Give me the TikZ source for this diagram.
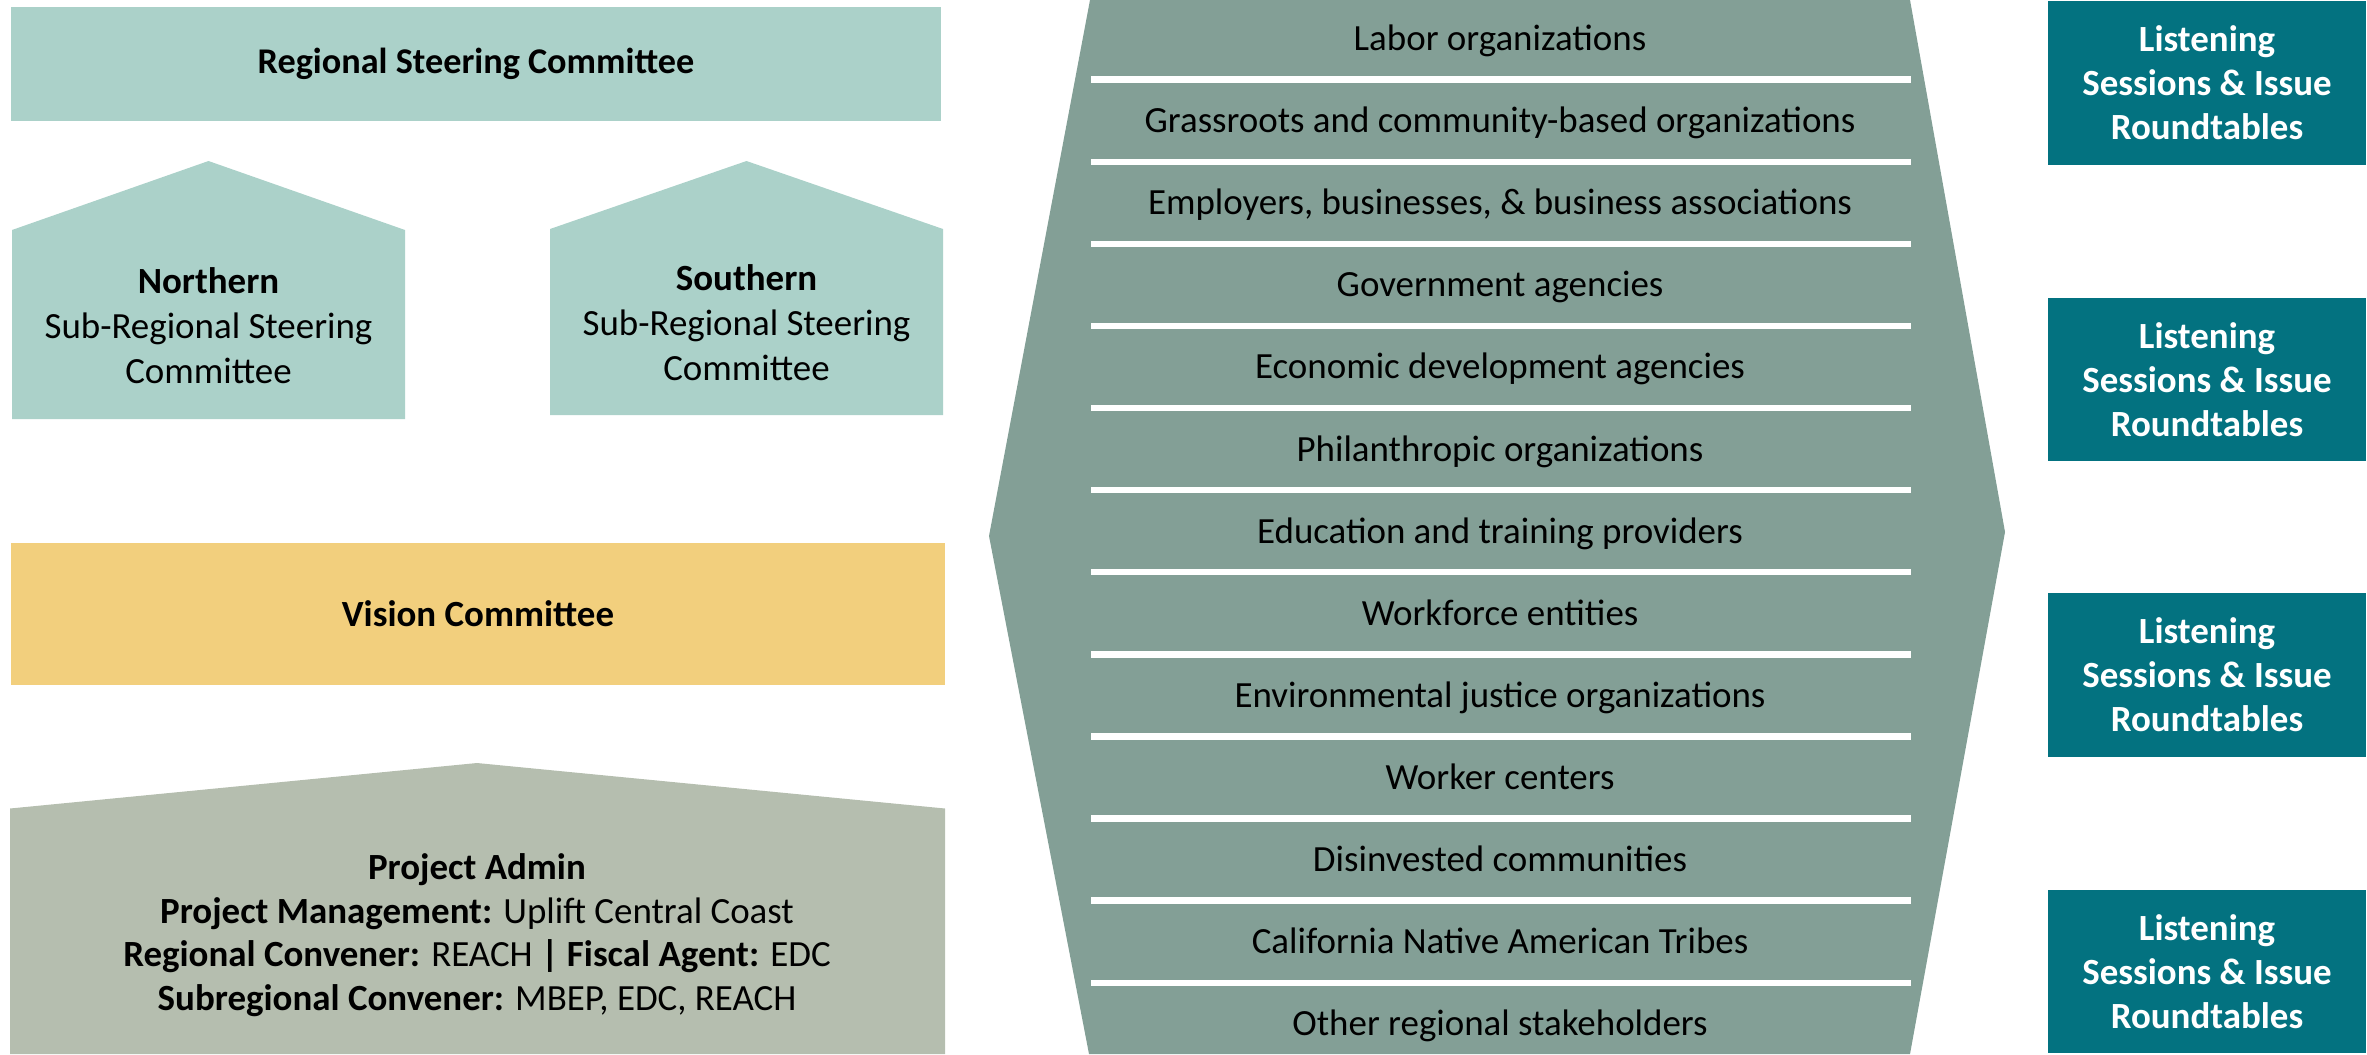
\documentclass[tikz,border=0pt]{standalone}
\usepackage{fontspec}
\setmainfont{Carlito}
\definecolor{rsc}{HTML}{ABD1C9}
\definecolor{vis}{HTML}{F2CF7D}
\definecolor{adm}{HTML}{B5BEAF}
\definecolor{hex}{HTML}{839F96}
\definecolor{lst}{HTML}{037280}
\begin{document}
\begin{tikzpicture}[x=0.01cm,y=-0.01cm,
  lbl/.style={font=\fontsize{10.5}{12.8}\selectfont, align=center, inner sep=0pt, text=black},
  item/.style={font=\fontsize{10.5}{12.8}\selectfont, inner sep=0pt, text=black, anchor=base},
  listen/.style={fill=lst, text=white, font=\bfseries\fontsize{10.5}{12.5}\selectfont,
    align=center, minimum width=3.18cm, minimum height=1.63cm, inner sep=0pt}
]
\useasboundingbox (0,0) rectangle (2367,1054);

% Regional Steering Committee
\node[fill=rsc, minimum width=9.30cm, minimum height=1.14cm, inner sep=0pt, lbl, font=\fontsize{10.3}{12.6}\selectfont] (rsc) at (476,64) {\bfseries Regional Steering Committee};

% Northern house
\fill[rsc] (12,419) -- (12,230) -- (208.5,161) -- (405,230) -- (405,419) -- cycle;
\node[lbl] (north) at (208.5,326) {\bfseries Northern\\Sub-Regional Steering\\Committee};

% Southern house
\fill[rsc] (550,415) -- (550,229) -- (746.5,161) -- (943,229) -- (943,415) -- cycle;
\node[lbl] (south) at (746.5,323) {\bfseries Southern\\Sub-Regional Steering\\Committee};

% Vision Committee
\node[fill=vis, minimum width=9.34cm, minimum height=1.42cm, inner sep=0pt, lbl] (vis) at (478,614) {\bfseries Vision Committee};

% Project Admin
\fill[adm] (10,1054) -- (10,808.5) -- (477,763) -- (945,808.5) -- (945,1054) -- cycle;
\node[lbl, font=\fontsize{10.5}{12.4}\selectfont] (admin) at (477,935) {\textbf{Project Admin}\\
\textbf{Project Management:} Uplift Central Coast\\
\textbf{Regional Convener:} REACH \textbf{|} \textbf{Fiscal Agent:} EDC\\
\textbf{Subregional Convener:} MBEP, EDC, REACH};

% Stakeholder hexagon
\fill[hex] (1090,0) -- (1910,0) -- (2005,532) -- (1910,1054) -- (1089,1054) -- (989,536) -- cycle;
\foreach \k in {0,...,11}{
  \fill[white] (1091,{79.6+82.1*\k-3.2}) rectangle (1911,{79.6+82.1*\k+3.2});
}
\foreach \t [count=\i from 0] in {Labor organizations,
  Grassroots and community-based organizations,
  {Employers, businesses, \& business associations},
  Government agencies,
  Economic development agencies,
  Philanthropic organizations,
  Education and training providers,
  Workforce entities,
  Environmental justice organizations,
  Worker centers,
  Disinvested communities,
  California Native American Tribes,
  Other regional stakeholders}{
  \node[item] (h\i) at (1500,{38.5+82.1*\i+12}) {\t};
}

% Listening boxes
\node[listen] (l1) at (2207,83) {Listening\\Sessions \& Issue\\Roundtables};
\node[listen] (l2) at (2207,379.5) {Listening\\Sessions \& Issue\\Roundtables};
\node[listen] (l3) at (2207,675) {Listening\\Sessions \& Issue\\Roundtables};
\node[listen] (l4) at (2207,971.5) {Listening\\Sessions \& Issue\\Roundtables};
\end{tikzpicture}
\end{document}
